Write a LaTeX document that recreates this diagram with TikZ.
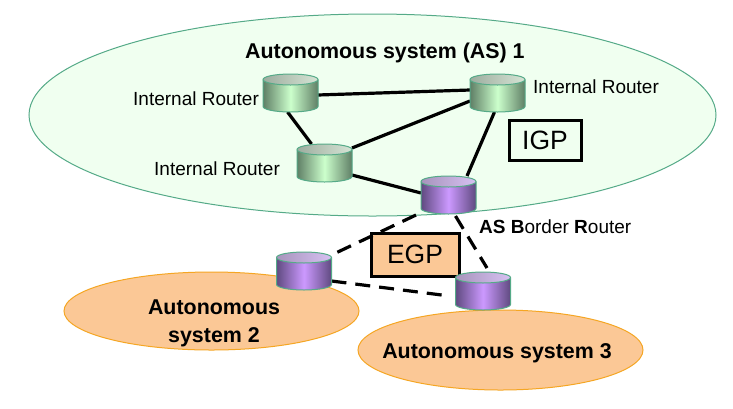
\documentclass[tikz,border=0pt]{standalone}
\usepackage{fontspec}
\setmainfont{Liberation Sans}
\usetikzlibrary{calc,shapes.geometric}
\definecolor{asgreen}{HTML}{F0FFF0}
\definecolor{asline}{HTML}{55AA88}
\definecolor{asorange}{HTML}{FBC896}
\definecolor{orline}{HTML}{F5A623}
\definecolor{gdark}{HTML}{5F7F66}
\definecolor{gmid}{HTML}{CCFFCC}
\definecolor{gtopa}{HTML}{9DAD9F}
\definecolor{gtopb}{HTML}{E4F2E2}
\definecolor{pdark}{HTML}{5F4A80}
\definecolor{pmid}{HTML}{CC99FF}
\definecolor{ptopa}{HTML}{A794BC}
\definecolor{ptopb}{HTML}{E2CCFF}
\tikzset{
  cylslot/.style={minimum width=55pt,minimum height=38pt,inner sep=0pt,outer sep=0pt},
  plainlabel/.style={font=\fontsize{19}{20}\selectfont,inner sep=0pt,anchor=base west},
  blabel/.style={font=\fontsize{21.4}{28}\selectfont\bfseries,inner sep=0pt,anchor=base west},
  proto/.style={draw=black,line width=3pt,font=\fontsize{26.5}{30}\selectfont,inner sep=0pt},
  link/.style={line width=3.2pt,draw=black},
  dlink/.style={line width=3.2pt,draw=black,dash pattern=on 15pt off 9pt},
  areaell/.style={ellipse,line width=1pt,inner sep=0pt},
}
\newcommand{\routercyl}[5]{%
  \path[left color=#2,right color=#2,middle color=#3]
    ($(#1.north west)+(0,5.5)$) -- ($(#1.south west)+(0,-5.5)$)
    arc[start angle=180,end angle=360,x radius=27.5pt,y radius=5.5pt]
    -- ($(#1.north east)+(0,5.5)$) -- cycle;
  \draw[asline,line width=1pt]
    ($(#1.north west)+(0,5.5)$) -- ($(#1.south west)+(0,-5.5)$)
    arc[start angle=180,end angle=360,x radius=27.5pt,y radius=5.5pt]
    -- ($(#1.north east)+(0,5.5)$);
  \draw[asline,line width=1pt,left color=#4,middle color=#5,right color=#5!80!#4]
    ($(#1.north west)+(0,5.5)$) arc[start angle=180,end angle=540,x radius=27.5pt,y radius=5.5pt];
}
\begin{document}
\begin{tikzpicture}[x=1pt,y=-1pt]
\useasboundingbox (0,0) rectangle (733,408);
\fill[white] (0,0) rectangle (733,408);
% areas
\node[areaell,draw=asline,fill=asgreen,minimum width=687pt,minimum height=202pt] (as1) at (372.5,115) {};
\node[areaell,draw=orline,fill=asorange,minimum width=295pt,minimum height=78pt] (as2) at (211.5,311) {};
\node[areaell,draw=orline,fill=asorange,minimum width=285pt,minimum height=80pt] (as3) at (500.5,350) {};
% router slots
\node[cylslot] (c1) at (290.5,93) {};
\node[cylslot] (c2) at (497.5,93) {};
\node[cylslot] (c3) at (324.5,163) {};
\node[cylslot] (c4) at (448.5,195) {};
\node[cylslot] (c5) at (304,271) {};
\node[cylslot] (c6) at (483,291) {};
% links
\draw[link] ($(c1.east)+(0,2)$) -- ($(c2.west)+(0,-3)$);
\draw[link] ($(c1.south)+(-3,0)$) -- ($(c3.north)+(-13,0)$);
\draw[link] ($(c3.east)+(0,-15)$) -- ($(c2.west)+(0,8)$);
\draw[link] ($(c3.east)+(0,12)$) -- ($(c4.west)+(0,-2)$);
\draw[link] ($(c2.south)+(-3,0)$) -- ($(c4.east)+(-9,-19)$);
% protocol boxes
\node[proto,minimum width=72pt,minimum height=40pt] (igp) at (545,140) {IGP};
\node[proto,fill=asorange,minimum width=88pt,minimum height=43pt] (egp) at (415,254.5) {EGP};
% dashed links
\draw[dlink] ($(c4.south west)+(-5,1)$) -- ($(c5.east)+(0,-16)$);
\draw[dlink] ($(c4.south)+(7,2)$) -- ($(c6.north)+(4,-4)$);
\draw[dlink] ($(c5.east)+(0,10)$) -- ($(c6.west)+(-6,5)$);
% routers
\routercyl{c1}{gdark}{gmid}{gtopa}{gtopb}
\routercyl{c2}{gdark}{gmid}{gtopa}{gtopb}
\routercyl{c3}{gdark}{gmid}{gtopa}{gtopb}
\routercyl{c4}{pdark}{pmid}{ptopa}{ptopb}
\routercyl{c5}{pdark}{pmid}{ptopa}{ptopb}
\routercyl{c6}{pdark}{pmid}{ptopa}{ptopb}
% labels
\node[blabel] (t1) at (245,58) {Autonomous system (AS) 1};
\node[plainlabel] (t2) at (133,105) {Internal Router};
\node[plainlabel] (t3) at (533,93) {Internal Router};
\node[plainlabel] (t4) at (154,175) {Internal Router};
\node[plainlabel] (t5) at (479,233) {\textbf{AS B}order \textbf{R}outer};
\node[blabel,align=center,anchor=center] (t6) at (214,323) {Autonomous\\system 2};
\node[blabel,anchor=center] (t7) at (497,353) {Autonomous system 3};
\end{tikzpicture}
\end{document}
